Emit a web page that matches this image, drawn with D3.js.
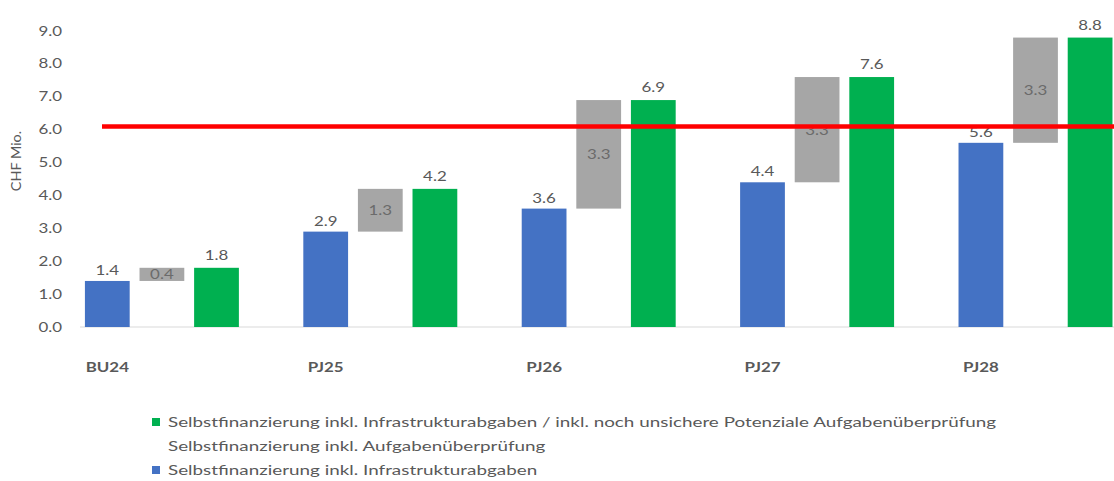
<!DOCTYPE html>
<html>
<head>
<meta charset="utf-8">
<script src="https://cdn.jsdelivr.net/npm/d3@7"></script>
<style>
  body { margin: 0; background: #fff; }
  svg { display: block; font-family: Lato, "Open Sans", sans-serif; }
</style>
</head>
<body>
<svg width="1114" height="481"></svg>
<script>
// Daten
const categories = ["BU24", "PJ25", "PJ26", "PJ27", "PJ28"];
const blueValues = [1.4, 2.9, 3.6, 4.4, 5.6];      // inkl. Infrastrukturabgaben
const greenValues = [1.8, 4.2, 6.9, 7.6, 8.8];     // inkl. Potenziale Aufgabenüberprüfung
const grayLabels = [0.4, 1.3, 3.3, 3.3, 3.3];      // Aufgabenüberprüfung (Differenz)
const targetLine = 6.1;
const yTicks = [0, 1, 2, 3, 4, 5, 6, 7, 8, 9];
const legendItems = [
  { text: "Selbstfinanzierung inkl. Infrastrukturabgaben / inkl. noch unsichere Potenziale Aufgabenüberprüfung", color: "#00B050" },
  { text: "Selbstfinanzierung inkl. Aufgabenüberprüfung", color: "#ffffff" },
  { text: "Selbstfinanzierung inkl. Infrastrukturabgaben", color: "#4472C4" }
];

const colors = { blue: "#4472C4", gray: "#A6A6A6", green: "#00B050", red: "#FF0000", text: "#595959" };

// das Original ist horizontal gestreckt -> Text etwas breiter zeichnen
const stretch = 1.3;

const svg = d3.select("svg");

// pro Kategorie 4 Slots: blau, grau, grün, leer
const slots = [];
categories.forEach(c => ["b", "g", "n", "e"].forEach(s => slots.push(c + "_" + s)));

const scX = d3.scaleBand()
  .domain(slots)
  .range([80, 1172])
  .paddingInner(0.18)
  .paddingOuter(0.09);

const scY = d3.scaleLinear()
  .domain([0, 9])
  .range([327, 31]);

const data = categories.map((c, i) => ({
  cat: c, blue: blueValues[i], green: greenValues[i], gray: grayLabels[i]
}));

// Text an Position (x, y) mit horizontaler Streckung
function addText(parent, x, y, txt, anchor, sx) {
  return parent.append("text")
    .attr("transform", `translate(${x},${y}) scale(${sx},1)`)
    .attr("text-anchor", anchor)
    .attr("fill", colors.text)
    .text(txt);
}

// Achse Y (nur Beschriftungen)
const gY = svg.append("g");
yTicks.forEach(t => {
  addText(gY, 62, scY(t) + 4.5, d3.format(".1f")(t), "end", stretch)
    .style("font-size", "13px");
});

// Titel Y
svg.append("text")
  .attr("transform", "translate(21,161) rotate(-90) scale(1.15,1)")
  .attr("text-anchor", "middle")
  .attr("fill", colors.text)
  .style("font-size", "12.5px")
  .text("CHF Mio.");

// Basislinie
svg.append("line")
  .attr("x1", 80).attr("x2", 1114)
  .attr("y1", scY(0)).attr("y2", scY(0))
  .attr("stroke", "#d9d9d9")
  .attr("stroke-width", 1);

// blaue Balken
svg.selectAll(".blue")
  .data(data)
  .enter()
  .append("rect")
  .attr("x", d => scX(d.cat + "_b"))
  .attr("y", d => scY(d.blue))
  .attr("width", scX.bandwidth())
  .attr("height", d => scY(0) - scY(d.blue))
  .style("fill", colors.blue);

// graue Balken (von blau bis grün)
svg.selectAll(".gray")
  .data(data)
  .enter()
  .append("rect")
  .attr("x", d => scX(d.cat + "_g"))
  .attr("y", d => scY(d.green))
  .attr("width", scX.bandwidth())
  .attr("height", d => scY(d.blue) - scY(d.green))
  .style("fill", colors.gray);

// grüne Balken
svg.selectAll(".green")
  .data(data)
  .enter()
  .append("rect")
  .attr("x", d => scX(d.cat + "_n"))
  .attr("y", d => scY(d.green))
  .attr("width", scX.bandwidth())
  .attr("height", d => scY(0) - scY(d.green))
  .style("fill", colors.green);

// Beschriftungen
const fmt = d3.format(".1f");
const gLbl = svg.append("g").style("font-size", "13px");
const half = scX.bandwidth() / 2;

data.forEach(d => {
  addText(gLbl, scX(d.cat + "_b") + half, scY(d.blue) - 6, fmt(d.blue), "middle", stretch);
  addText(gLbl, scX(d.cat + "_n") + half, scY(d.green) - 8, fmt(d.green), "middle", stretch);
  addText(gLbl, scX(d.cat + "_g") + half, (scY(d.blue) + scY(d.green)) / 2 + 5, fmt(d.gray), "middle", stretch)
    .attr("fill", "#6b6b6b");
  addText(gLbl, scX(d.cat + "_b") + half, 372, d.cat, "middle", stretch)
    .style("font-weight", "bold");
});

// rote Linie
svg.append("line")
  .attr("x1", 102).attr("x2", 1114)
  .attr("y1", scY(targetLine)).attr("y2", scY(targetLine))
  .attr("stroke", colors.red)
  .attr("stroke-width", 4.5);

// Legende
const legend = svg.selectAll(".legend")
  .data(legendItems)
  .enter()
  .append("g")
  .attr("transform", (d, i) => `translate(152, ${418 + i * 24})`);

legend.append("rect")
  .attr("width", 8).attr("height", 8)
  .style("fill", d => d.color);

legend.append("text")
  .attr("transform", "translate(16,9) scale(1.45,1)")
  .attr("fill", colors.text)
  .style("font-size", "13px")
  .text(d => d.text);
</script>
</body>
</html>
